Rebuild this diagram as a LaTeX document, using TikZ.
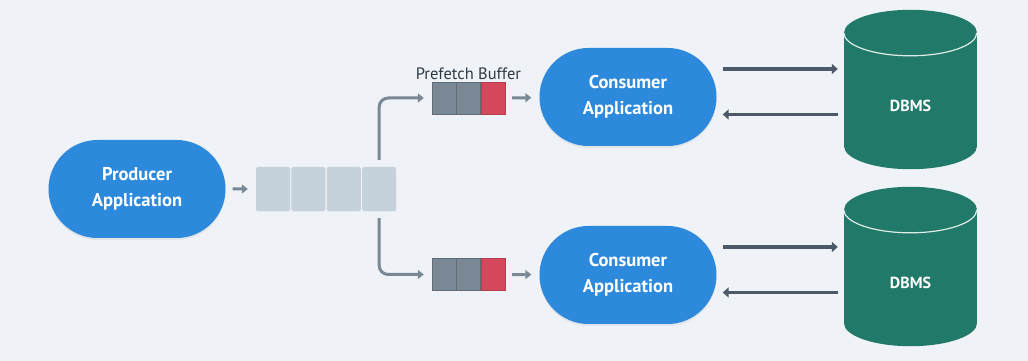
\documentclass[tikz,border=0pt]{standalone}
\usepackage{fontspec}
\setmainfont{PT Sans}
\usetikzlibrary{shapes,arrows.meta,positioning,shadows}

\definecolor{bgcol}{HTML}{EFF3F7}
\definecolor{appblue}{HTML}{2D89DC}
\definecolor{qgray}{HTML}{C5D1DB}
\definecolor{bufgray}{HTML}{7A8794}
\definecolor{bufred}{HTML}{D5485C}
\definecolor{darkline}{HTML}{4B5968}
\definecolor{dbgreen}{HTML}{217A69}
\definecolor{textdark}{HTML}{2E3A46}

\begin{document}
\begin{tikzpicture}[x=1pt, y=1pt]
        % Styles
        \tikzstyle{app} = [rounded rectangle, fill=appblue, text=white, inner sep=0pt, align=center, font=\fontsize{18.5}{26}\selectfont\bfseries, minimum width=177pt, minimum height=98pt, drop shadow={shadow xshift=0pt, shadow yshift=-2pt, opacity=0.12}]
        \tikzstyle{qcell} = [rectangle, fill=qgray, rounded corners=2pt, minimum width=34pt, minimum height=44pt, inner sep=0pt, drop shadow={shadow xshift=0pt, shadow yshift=-1pt, opacity=0.08}]
        \tikzstyle{bcell} = [rectangle, fill=bufgray, draw=bufgray!80!black, line width=0.4pt, minimum width=24pt, minimum height=32pt, inner sep=0pt]
        \tikzstyle{line} = [draw=bufgray, line width=3pt, -{Triangle[length=6pt, width=9pt]}, shorten <=7pt, shorten >=8pt]
        \tikzstyle{dbline} = [draw=darkline, line width=3.5pt, -{Triangle[length=6pt, width=10pt]}, shorten <=6pt, shorten >=6pt]
        \tikzstyle{dbbody} = [rectangle, fill=dbgreen, minimum width=133pt, minimum height=113pt, inner sep=0pt]

        % Background
        \fill[bgcol] (0,0) rectangle (1028,361);
        \useasboundingbox (0,0) rectangle (1028,361);

        % Nodes
        \node [app] (prod) at (137,172) {Producer\\Application};
        \node [qcell] (q1) at (273,172) {};
        \node [qcell, right=1pt of q1] (q2) {};
        \node [qcell, right=1pt of q2] (q3) {};
        \node [qcell, right=1pt of q3] (q4) {};

        \node [bcell] (b1) at (444,263) {};
        \node [bcell, right=0pt of b1] (b2) {};
        \node [bcell, right=0pt of b2, fill=bufred, draw=bufred!85!black] (b3) {};
        \node [above=0pt of b2, text=textdark, font=\fontsize{16.5}{18}\selectfont, inner sep=2pt] (pflabel) {Prefetch Buffer};

        \node [bcell] (c1) at (444,86.5) {};
        \node [bcell, right=0pt of c1] (c2) {};
        \node [bcell, right=0pt of c2, fill=bufred, draw=bufred!85!black] (c3) {};

        \node [app] (con1) at (628,264) {Consumer\\Application};
        \node [app] (con2) at (628,86) {Consumer\\Application};

        % Databases
        \foreach \i/\y in {1/271.5, 2/94.5} {
            \node [dbbody, label={[text=white, font=\fontsize{16}{18}\selectfont\bfseries, yshift=-16pt]center:DBMS}] (db\i) at (910.5,\y) {};
            \fill [dbgreen] (db\i.south) ellipse [x radius=66.5, y radius=23];
            \fill [dbgreen] (db\i.north) ellipse [x radius=66.5, y radius=23];
            \draw [white!85!dbgreen, line width=1.2pt] (db\i.north west) arc [start angle=180, end angle=360, x radius=66.5, y radius=23];
        }

        % Edges
        \path [line] (prod) -- (q1);
        \path [line, rounded corners=9pt] (q4.north) |- (b1.west);
        \path [line, rounded corners=9pt] (q4.south) |- (c1.west);
        \path [line] (b3) -- (con1);
        \path [line] (c3) -- (con2);
        \foreach \i in {1,2} {
            \path [dbline] ([yshift=28]con\i.east) -- ([yshift=28]con\i.east -| db\i.west);
            \path [dbline] ([yshift=-17.5]con\i.east -| db\i.west) -- ([yshift=-17.5]con\i.east);
        }
\end{tikzpicture}
\end{document}
